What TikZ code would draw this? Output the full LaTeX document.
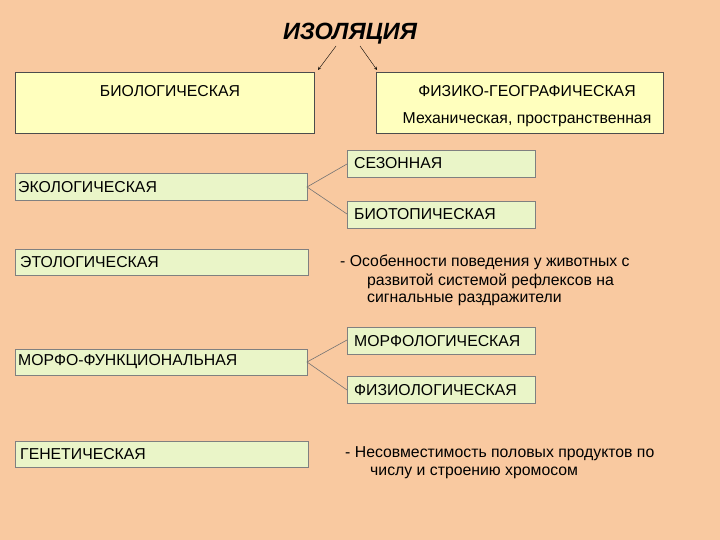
\documentclass[tikz,border=0pt]{standalone}
\usepackage{fontspec}
\setmainfont{Liberation Sans}
\begin{document}
\begin{tikzpicture}[x=1pt,y=-1pt,
  yb/.style={draw=black!70,fill={rgb,255:red,255;green,255;blue,190},line width=0.6pt},
  gb/.style={draw=black!50,fill={rgb,255:red,234;green,245;blue,200},line width=0.8pt},
  tx/.style={anchor=west,inner sep=0pt,font=\fontsize{15.8}{18}\selectfont},
  ln/.style={draw=black!55,line width=0.6pt}]
\definecolor{bgc}{RGB}{249,201,160}
\fill[bgc] (0,0) rectangle (720,540);
\useasboundingbox (0,0) rectangle (720,540);
\node[font=\fontsize{23.5}{26}\bfseries\itshape\selectfont] (t) at (350,34) {ИЗОЛЯЦИЯ};
\draw[yb] (15,72) rectangle (314,133);
\draw[yb] (376,72) rectangle (663,133);
\coordinate (a1) at (318,70); \coordinate (a2) at (377,70);
\draw[-stealth] (336,46) -- (a1);
\draw[-stealth] (360,46) -- (a2);
\node[tx,anchor=center] (b1) at (170,91) {БИОЛОГИЧЕСКАЯ};
\node[tx,anchor=center] (b2) at (527,91) {ФИЗИКО-ГЕОГРАФИЧЕСКАЯ};
\node[tx,anchor=center] (b3) at (527,120) {Механическая, пространственная};
\draw[gb] (347,150) rectangle (535,177);
\draw[gb] (15,173) rectangle (307,200);
\draw[gb] (347,201) rectangle (535,228);
\node[tx] (s1) at (354,163) {СЕЗОННАЯ};
\node[tx] (e1) at (18,187) {ЭКОЛОГИЧЕСКАЯ};
\node[tx] (s2) at (354,214) {БИОТОПИЧЕСКАЯ};
\coordinate (ec) at (307,187); \coordinate (sc1) at (347,164); \coordinate (sc2) at (347,214);
\draw[ln] (sc1) -- (ec) -- (sc2);
\draw[gb] (15,249) rectangle (308,275);
\node[tx] (e2) at (20,262) {ЭТОЛОГИЧЕСКАЯ};
\node[tx] (d1) at (340,262) {- Особенности поведения у животных с};
\node[tx] (d2) at (367,281) {развитой системой рефлексов на};
\node[tx] (d3) at (367,300) {сигнальные раздражители};
\draw[gb] (347,327) rectangle (535,354);
\draw[gb] (15,349) rectangle (307,375);
\draw[gb] (347,376) rectangle (535,403);
\node[tx] (m1) at (354,341) {МОРФОЛОГИЧЕСКАЯ};
\node[tx] (e3) at (18,362) {МОРФО-ФУНКЦИОНАЛЬНАЯ};
\node[tx] (m2) at (354,390) {ФИЗИОЛОГИЧЕСКАЯ};
\coordinate (mc) at (307,362); \coordinate (mc1) at (347,340); \coordinate (mc2) at (347,390);
\draw[ln] (mc1) -- (mc) -- (mc2);
\draw[gb] (15,441) rectangle (308,467);
\node[tx] (e4) at (20,454) {ГЕНЕТИЧЕСКАЯ};
\node[tx] (g1) at (345,454) {- Несовместимость половых продуктов по};
\node[tx] (g2) at (370,473) {числу и строению хромосом};
\end{tikzpicture}
\end{document}
